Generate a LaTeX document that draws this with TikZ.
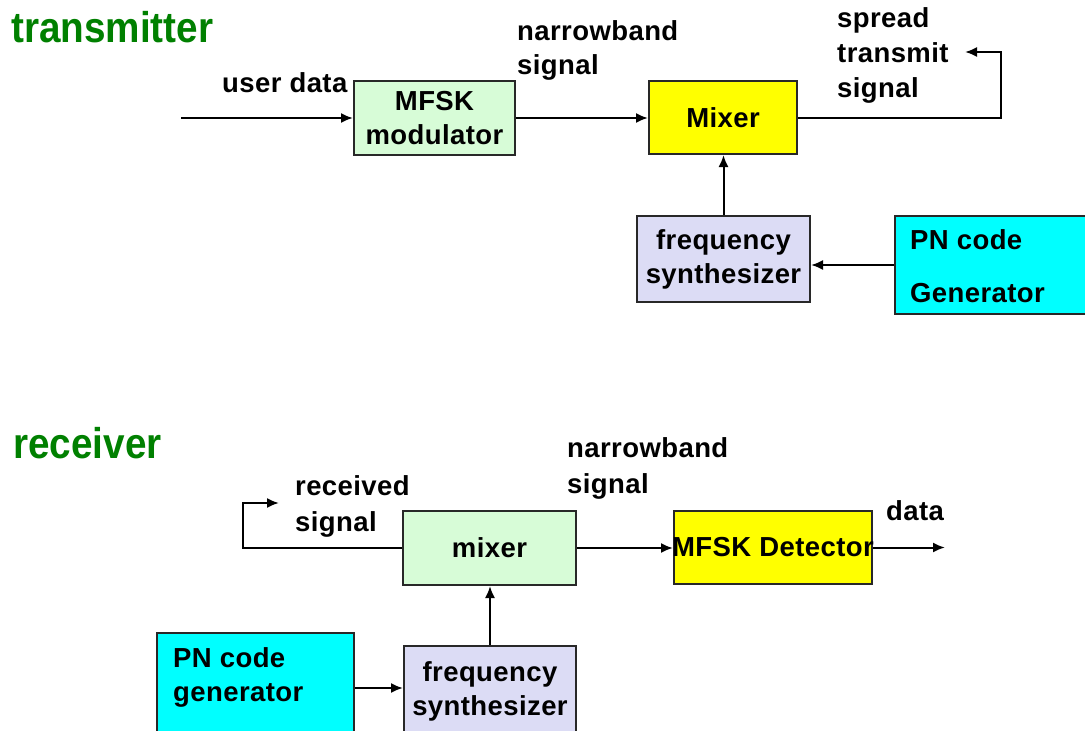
\documentclass[tikz,border=0pt]{standalone}
\usepackage{fontspec}
\setmainfont{Liberation Sans}[LetterSpace=1.5]
\newfontfamily\titlefont{Liberation Sans}[FakeStretch=0.9]
\usetikzlibrary{arrows.meta}
\definecolor{cgreen}{RGB}{215,252,215}
\definecolor{cyellow}{RGB}{255,255,0}
\definecolor{clav}{RGB}{220,220,245}
\definecolor{ccyan}{RGB}{0,255,255}
\definecolor{tgreen}{RGB}{0,128,0}
\definecolor{bord}{RGB}{40,40,40}
\newcommand\bodyfont{\bfseries\fontsize{27.5}{34}\selectfont}
\newcommand\mystack[2][34pt]{\vtop{\baselineskip=#1\relax\halign{##\hfil\cr#2\crcr}}}
\begin{document}
\begin{tikzpicture}[x=1pt,y=-1pt,
  box/.style={draw=bord, line width=2pt, inner sep=2pt, align=center, font=\bodyfont},
  lbl/.style={inner sep=0pt, anchor=base west, font=\bodyfont},
  title/.style={inner sep=0pt, anchor=base west, text=tgreen, font=\titlefont\bfseries\fontsize{43}{50}\selectfont},
  conn/.style={line width=2pt},
  arr/.style={conn, -{Latex[length=12pt,width=10pt]}}]
\useasboundingbox (0,0) rectangle (1085,731);

% titles and labels
\node[title] (ttx) at (11,42) {transmitter};
\node[title] (trx) at (13,458) {receiver};
\node[lbl] (ud) at (222,92) {user data};
\node[lbl] (nb1) at (517,40) {\mystack{narrowband\cr signal}};
\node[lbl] (sts) at (837,27) {\mystack[35pt]{spread\cr transmit\cr signal}};
\node[lbl] (rsl) at (295,495) {\mystack[36pt]{received\cr signal}};
\node[lbl] (nb2) at (567,457) {\mystack[36pt]{narrowband\cr signal}};
\node[lbl] (dat) at (886,520) {data};

% transmitter boxes
\node[box, fill=cgreen, minimum width=161pt, minimum height=74pt] (mod) at (434.5,118) {MFSK\\modulator};
\node[box, fill=cyellow, minimum width=148pt, minimum height=73pt] (mix) at (723,117.5) {Mixer};
\node[box, fill=clav, minimum width=173pt, minimum height=86pt] (fs1) at (723.5,259) {frequency\\synthesizer};
\node[box, fill=ccyan, minimum width=200pt, minimum height=98pt] (pn1) at (995,265) {};
\node[lbl] (pn1t) at (910,249) {\mystack[53pt]{PN code\cr Generator}};

% receiver boxes
\node[box, fill=cyellow, minimum width=198pt, minimum height=73pt] (det) at (773,547.5) {\makebox[150pt]{MFSK Detector}};
\node[box, fill=cgreen, minimum width=173pt, minimum height=74pt] (mix2) at (489.5,548) {mixer};
\node[box, fill=clav, minimum width=172pt, minimum height=90pt] (fs2) at (490,691) {frequency\\synthesizer};
\node[box, fill=ccyan, minimum width=197pt, minimum height=110pt] (pn2) at (255.5,688) {};
\node[lbl] (pn2t) at (173,667) {\mystack{PN code\cr generator}};

% transmitter connectors
\coordinate (udin) at (181,118);
\draw[arr] (udin) -- (mod.west);
\draw[arr] (mod.east) -- (mod.east -| mix.west);
\coordinate (tc) at (1001,52);
\coordinate (tout) at (965,52);
\draw[arr] (mix.east) -| (tc) -- (tout);
\draw[arr] (fs1.north) -- (fs1.north |- mix.south);
\draw[arr] (pn1.west) -- (pn1.west -| fs1.east);

% receiver connectors
\coordinate (rc) at (243,503);
\coordinate (rin) at (279,503);
\draw[arr] (mix2.west) -| (rc) -- (rin);
\draw[arr] (mix2.east) -- (mix2.east -| det.west);
\coordinate (dout) at (945,547.5);
\draw[arr] (det.east) -- (dout);
\draw[arr] (fs2.north) -- (fs2.north |- mix2.south);
\draw[arr] (pn2.east) -- (pn2.east -| fs2.west);
\end{tikzpicture}
\end{document}
